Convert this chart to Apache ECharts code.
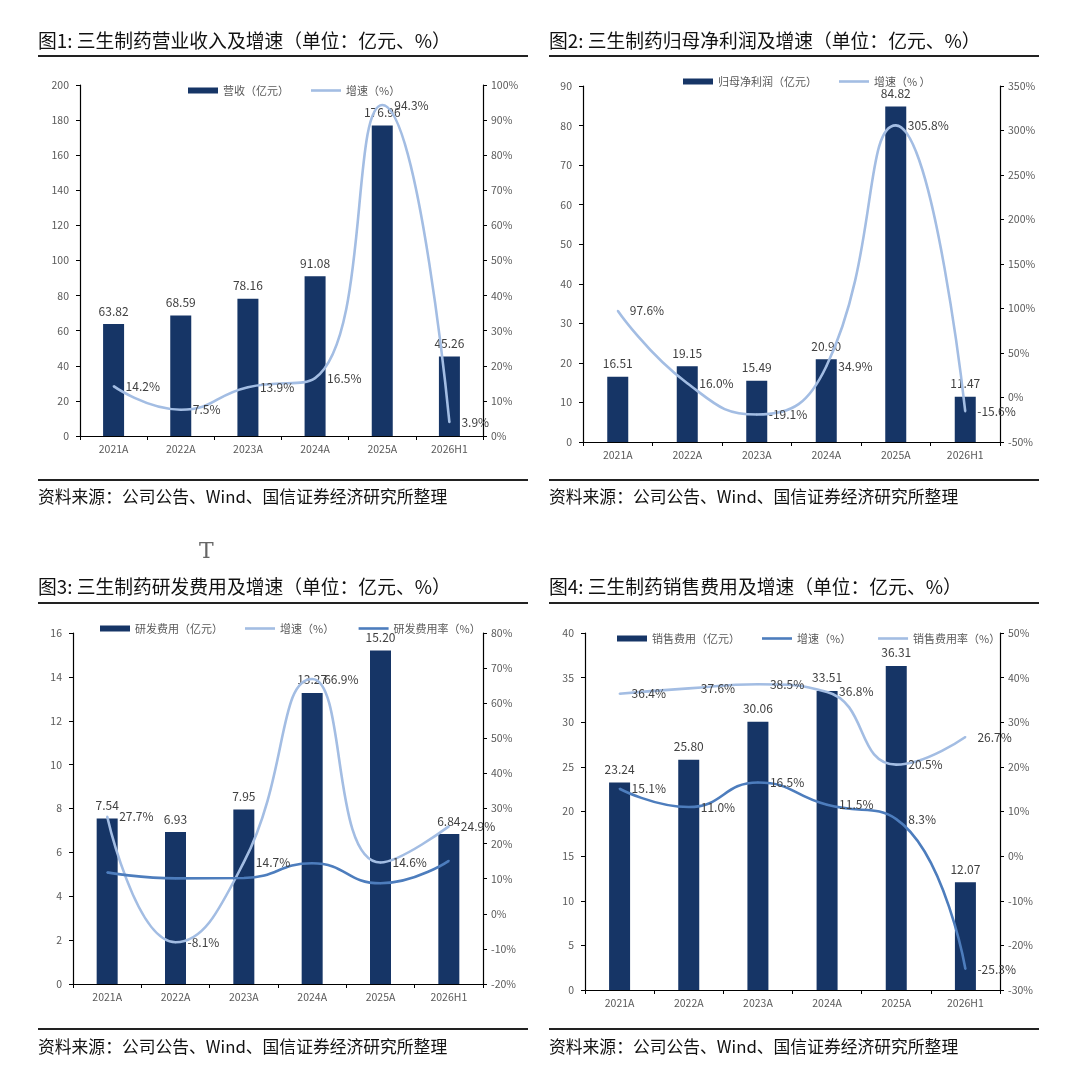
<!DOCTYPE html>
<html>
<head>
<meta charset="utf-8">
<script src="https://cdn.jsdelivr.net/npm/echarts@6/dist/echarts.min.js"></script>
<style>
html, body { margin: 0; padding: 0; background: #fff; }
#chart { width: 1080px; height: 1078px; }
</style>
</head>
<body>
<div id="chart"></div>
<script>
var categories = ['2021A', '2022A', '2023A', '2024A', '2025A', '2026H1'];

var revenue = [63.82, 68.59, 78.16, 91.08, 176.96, 45.26];
var revenueGrowth = [14.2, 7.5, 13.9, 16.5, 94.3, 3.9];

var netProfit = [16.51, 19.15, 15.49, 20.90, 84.82, 11.47];
var netProfitGrowth = [97.6, 16.0, -19.1, 34.9, 305.8, -15.6];

var rdExpense = [7.54, 6.93, 7.95, 13.27, 15.20, 6.84];
var rdGrowth = [27.7, -8.1, 14.7, 66.9, 14.6, 24.9];
var rdRatio = [11.8, 10.1, 10.2, 14.4, 8.7, 15.1];

var salesExpense = [23.24, 25.80, 30.06, 33.51, 36.31, 12.07];
var salesGrowth = [15.1, 11.0, 16.5, 11.5, 8.3, -25.3];
var salesRatio = [36.4, 37.6, 38.5, 36.8, 20.5, 26.7];

var titles = [
	'图1: 三生制药营业收入及增速（单位：亿元、%）',
	'图2: 三生制药归母净利润及增速（单位：亿元、%）',
	'图3: 三生制药研发费用及增速（单位：亿元、%）',
	'图4: 三生制药销售费用及增速（单位：亿元、%）'
];
var sourceText = '资料来源：公司公告、Wind、国信证券经济研究所整理';

var FONT = '"Noto Sans CJK SC", "Noto Sans", sans-serif';
var BAR = '#163566';
var LIGHT = '#a3bde3';
var MID = '#4d7dbd';
var BAR_ICON = 'path://M0,0 L30,0 L30,6 L0,6 Z';
var LINE_ICON = 'path://M0,0 L30,0 L30,2.6 L0,2.6 Z';

var chart = echarts.init(document.getElementById('chart'));

function leftAxis(grid, max, step){
	return {
		type: 'value', gridIndex: grid, position: 'left',
		min: 0, max: max, interval: step,
		axisLine: {show: true, lineStyle: {color: '#000', width: 1.2}},
		axisTick: {show: true, length: 4, lineStyle: {color: '#000'}},
		axisLabel: {color: '#595959', fontSize: 10.5, fontFamily: FONT, margin: 11},
		splitLine: {show: false}
	};
}

function rightAxis(grid, min, max, step){
	return {
		type: 'value', gridIndex: grid, position: 'right',
		min: min, max: max, interval: step,
		axisLine: {show: true, lineStyle: {color: '#000', width: 1.2}},
		axisTick: {show: true, length: 4, lineStyle: {color: '#000'}},
		axisLabel: {color: '#595959', fontSize: 10.5, fontFamily: FONT, margin: 8, formatter: '{value}%'},
		splitLine: {show: false}
	};
}

function catAxis(grid){
	return {
		type: 'category', gridIndex: grid, data: categories,
		axisLine: {lineStyle: {color: '#000', width: 1.2}},
		axisTick: {show: true, length: 4, alignWithLabel: false, lineStyle: {color: '#000'}},
		axisLabel: {color: '#595959', fontSize: 10.5, fontFamily: FONT, margin: 8, interval: 0}
	};
}

function barSeries(name, data, axisIdx){
	return {
		name: name, type: 'bar', xAxisIndex: axisIdx, yAxisIndex: axisIdx * 2,
		data: data, barWidth: 21,
		itemStyle: {color: BAR},
		label: {show: true, position: 'top', distance: 7, color: '#404040', fontSize: 12, fontFamily: FONT,
			formatter: function(p){ return p.value.toFixed(2); }}
	};
}

function lineSeries(name, data, axisIdx, color, withLabel){
	return {
		name: name, type: 'line', xAxisIndex: axisIdx, yAxisIndex: axisIdx * 2 + 1,
		data: data, smooth: true, symbol: 'circle', symbolSize: 2, showSymbol: true, z: 5,
		lineStyle: {color: color, width: 2.6},
		itemStyle: {color: color},
		label: {show: withLabel, position: 'right', distance: 11, color: '#404040', fontSize: 12, fontFamily: FONT,
			formatter: function(p){ return p.value.toFixed(1) + '%'; }}
	};
}

function legend(left, top, names){
	var items = [];
	for(var i=0; i<names.length; i++){
		items.push({name: names[i], icon: i == 0 ? BAR_ICON : LINE_ICON});
	}
	return {
		left: left, top: top, itemWidth: 30, itemHeight: 6, itemGap: 22,
		textStyle: {color: '#595959', fontSize: 11, fontFamily: FONT},
		data: items
	};
}

var graphics = [];
var panelX = [38, 549];
var titleY = [42, 588];
var ruleY = [56, 603];
var srcRuleY = [480, 1029];
var srcY = [499, 1049];

for(var i=0; i<4; i++){
	var cx = panelX[i % 2];
	var row = Math.floor(i / 2);
	graphics.push({type: 'text', left: cx, top: titleY[row] - 11,
		style: {text: titles[i], fill: '#111', font: '18.8px ' + FONT}});
	graphics.push({type: 'line', shape: {x1: cx, y1: ruleY[row], x2: cx + 490, y2: ruleY[row]},
		style: {stroke: '#222', lineWidth: 2}});
	graphics.push({type: 'line', shape: {x1: cx, y1: srcRuleY[row], x2: cx + 490, y2: srcRuleY[row]},
		style: {stroke: '#222', lineWidth: 2}});
	graphics.push({type: 'text', left: cx, top: srcY[row] - 11,
		style: {text: sourceText, fill: '#111', font: '16.8px ' + FONT}});
}
graphics.push({type: 'text', left: 199, top: 541,
	style: {text: 'T', fill: '#666', font: '22px "DejaVu Serif", serif'}});

var option = {
	backgroundColor: '#fff',
	animation: false,
	graphic: graphics,
	grid: [
		{left: 80, top: 85, width: 403, height: 351},
		{left: 583, top: 86, width: 417, height: 356},
		{left: 73, top: 633, width: 410, height: 351},
		{left: 585, top: 633, width: 415, height: 357}
	],
	legend: [
		legend(183, 80, ['营收（亿元）', '增速（%）']),
		legend(678, 71, ['归母净利润（亿元）', '增速（% ）']),
		legend(95, 618, ['研发费用（亿元）', '增速（%） ', '研发费用率（%）']),
		legend(612, 628, ['销售费用（亿元）', '增速（%）  ', '销售费用率（%）'])
	],
	xAxis: [catAxis(0), catAxis(1), catAxis(2), catAxis(3)],
	yAxis: [
		leftAxis(0, 200, 20), rightAxis(0, 0, 100, 10),
		leftAxis(1, 90, 10), rightAxis(1, -50, 350, 50),
		leftAxis(2, 16, 2), rightAxis(2, -20, 80, 10),
		leftAxis(3, 40, 5), rightAxis(3, -30, 50, 10)
	],
	series: [
		barSeries('营收（亿元）', revenue, 0),
		lineSeries('增速（%）', revenueGrowth, 0, LIGHT, true),
		barSeries('归母净利润（亿元）', netProfit, 1),
		lineSeries('增速（% ）', netProfitGrowth, 1, LIGHT, true),
		barSeries('研发费用（亿元）', rdExpense, 2),
		lineSeries('增速（%） ', rdGrowth, 2, LIGHT, true),
		lineSeries('研发费用率（%）', rdRatio, 2, MID, false),
		barSeries('销售费用（亿元）', salesExpense, 3),
		lineSeries('增速（%）  ', salesGrowth, 3, MID, true),
		lineSeries('销售费用率（%）', salesRatio, 3, LIGHT, true)
	]
};

chart.setOption(option);
</script>
</body>
</html>
